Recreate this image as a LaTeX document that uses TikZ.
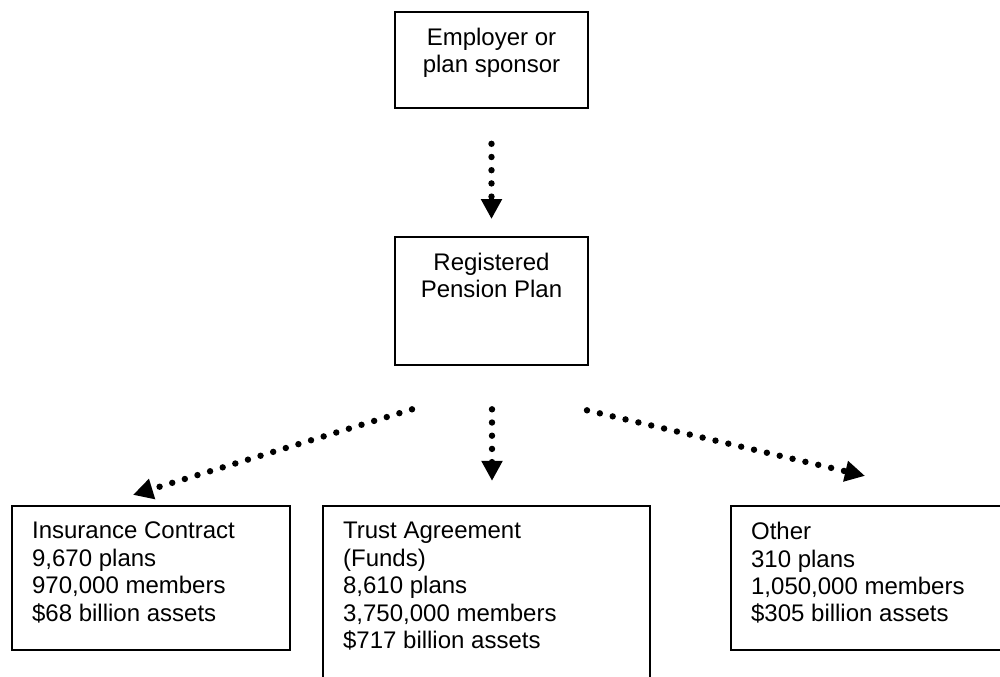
\documentclass[tikz,border=0pt]{standalone}
\usepackage{fontspec}
\setmainfont{Liberation Sans}
\usepackage{tikz}
\usetikzlibrary{arrows.meta}
\tikzstyle{block} = [rectangle, draw=black, line width=1.7pt, inner sep=0pt]
\tikzstyle{boxtext} = [inner sep=0pt, font=\fontsize{18pt}{20.6pt}\selectfont, execute at begin node=\strut]
\tikzstyle{dotarrow} = [line width=4.8pt, line cap=round, dash pattern=on 0pt off 9.9pt, -{Triangle[length=15pt,width=15pt]}]

\begin{document}
\begin{tikzpicture}[x=0.75pt, y=-0.75pt]
        \useasboundingbox (0,0) rectangle (1000,676);
        \clip (0,0) rectangle (1000,676);
        % boxes
        \node (emp) [block, minimum width=144.75pt, minimum height=72pt] at (491.5,60) {};
        \node (reg) [block, minimum width=144.75pt, minimum height=96.25pt] at (491.5,301) {};
        \node (ins) [block, minimum width=208.5pt, minimum height=108pt] at (151,578) {};
        \node (trust) [block, minimum width=245.25pt, minimum height=145.5pt] at (486.5,603) {};
        \node (other) [block, minimum width=209.25pt, minimum height=108pt] at (870.5,578) {};
        % texts
        \node (empText) [boxtext, anchor=north, align=center] at ([shift={(0,17)}]emp.north) {Employer or\\plan sponsor};
        \node (regText) [boxtext, anchor=north, align=center] at ([shift={(0,17)}]reg.north) {Registered\\Pension Plan};
        \node (insText) [boxtext, anchor=north west, align=left] at ([shift={(21,17)}]ins.north west) {Insurance Contract\\9,670 plans\\970,000 members\\\$68 billion assets};
        \node (trustText) [boxtext, anchor=north west, align=left] at ([shift={(21,17)}]trust.north west) {Trust Agreement\\(Funds)\\8,610 plans\\3,750,000 members\\\$717 billion assets};
        \node (otherText) [boxtext, anchor=north west, align=left] at ([shift={(21,17)}]other.north west) {Other\\310 plans\\1,050,000 members\\\$305 billion assets};
        % arrows
        \draw [dotarrow, shorten <=26pt, shorten >=12.5pt] (emp) -- (reg);
        \draw [dotarrow] ([shift={(-79.5,43)}]reg.south) -- ([shift={(-18,-10)}]ins.north);
        \draw [dotarrow] ([shift={(0.5,43)}]reg.south) -- ([shift={(5.5,-24)}]trust.north);
        \draw [dotarrow] ([shift={(95.5,44)}]reg.south) -- ([shift={(-5.5,-29)}]other.north);
\end{tikzpicture}
\end{document}
